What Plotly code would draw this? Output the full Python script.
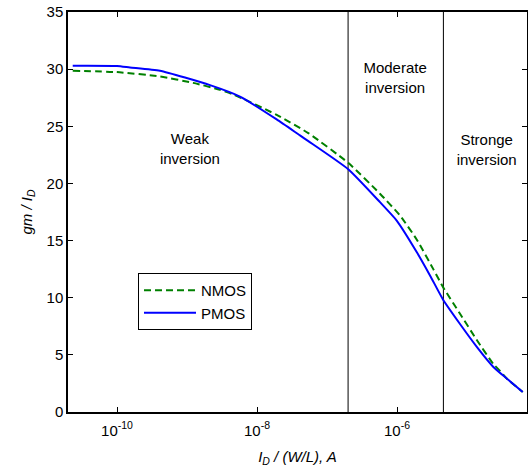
import plotly.graph_objects as go

# ---- data ----
nmos_x = [2.33e-11, 1.0e-10, 4.1e-10, 1.22e-9, 2.96e-9, 4.54e-9, 1.91e-8, 5.41e-8,
          2.01e-7, 5.71e-7, 1.10e-6, 1.91e-6, 3.30e-6, 4.58e-6, 7.94e-6, 1.38e-5,
          2.38e-5, 2.96e-5, 3.69e-5, 6.25e-5]
nmos_y = [29.86, 29.74, 29.36, 28.8, 28.2, 27.8, 26.0, 24.4,
          21.8, 19.1, 17.2, 15.1, 12.5, 10.9, 8.6, 6.3,
          4.2, 3.6, 2.93, 1.75]

pmos_x = [2.33e-11, 1.0e-10, 1.53e-10, 4.1e-10, 2.13e-9, 5.71e-9, 1.91e-8, 4.11e-8,
          5.41e-8, 2.01e-7, 5.71e-7, 9.9e-7, 1.91e-6, 2.96e-6, 4.58e-6, 7.94e-6,
          1.38e-5, 2.38e-5, 3.69e-5, 6.25e-5]
pmos_y = [30.3, 30.28, 30.15, 29.86, 28.6, 27.6, 25.6, 24.2,
          23.7, 21.24, 18.36, 16.75, 14.0, 11.95, 9.8, 7.7,
          5.7, 3.94, 2.93, 1.75]

region_bounds = [2.0e-7, 4.6e-6]
region_labels = ["Weak<br>inversion", "Moderate<br>inversion", "Stronge<br>inversion"]
region_label_x = [1.1e-9, 9.4e-7, 1.91e-5]
region_label_y = [22.9, 29.1, 22.8]

x_tickvals = [1e-10, 1e-8, 1e-6]
x_ticktext = ["10<sup>-10</sup>", "10<sup>-8</sup>", "10<sup>-6</sup>"]
y_tickvals = [0, 5, 10, 15, 20, 25, 30, 35]

FONT = "Liberation Sans, Arial, Helvetica, sans-serif"
FS = 15

fig = go.Figure()

for xb in region_bounds:
    fig.add_trace(go.Scatter(x=[xb, xb], y=[0, 35], mode="lines",
                             line=dict(color="black", width=1),
                             showlegend=False, hoverinfo="skip"))

fig.add_trace(go.Scatter(x=nmos_x, y=nmos_y, mode="lines", name="NMOS",
                         line=dict(color="#008000", width=2, dash="7px,4px",
                                   shape="spline", smoothing=0.5)))
fig.add_trace(go.Scatter(x=pmos_x, y=pmos_y, mode="lines", name="PMOS",
                         line=dict(color="#0000ff", width=2,
                                   shape="spline", smoothing=0.5)))

fig.add_trace(go.Scatter(x=region_label_x, y=region_label_y, mode="text",
                         text=region_labels,
                         textfont=dict(family=FONT, size=FS, color="black"),
                         showlegend=False, hoverinfo="skip"))

fig.update_layout(
    width=528, height=468,
    margin=dict(l=68, r=1, t=12, b=56, autoexpand=False),
    paper_bgcolor="white", plot_bgcolor="white",
    font=dict(family=FONT, size=FS, color="black"),
    showlegend=True,
    legend=dict(x=0.1525, y=0.3475, xanchor="left", yanchor="top",
                bordercolor="black", borderwidth=1, bgcolor="white",
                font=dict(family=FONT, size=FS, color="black"),
                itemwidth=52, tracegroupgap=0),
)

fig.update_xaxes(type="log", range=[-10.7, -4.143], automargin=False,
                 tickvals=x_tickvals, ticktext=x_ticktext,
                 ticks="inside", ticklen=5, tickcolor="black",
                 ticklabelstandoff=4,
                 showline=True, linecolor="black", linewidth=1.5, mirror="ticks",
                 showgrid=False, zeroline=False,
                 tickfont=dict(family=FONT, size=FS, color="black"),
                 title=dict(text="<i>I</i><sub><i>D</i></sub><i> / (W/L), A</i>",
                            font=dict(family=FONT, size=FS, color="black"),
                            standoff=14))
fig.update_yaxes(range=[0, 35], tickvals=y_tickvals, automargin=False,
                 ticks="inside", ticklen=5, tickcolor="black",
                 showline=True, linecolor="black", linewidth=1.5, mirror="ticks",
                 showgrid=False, zeroline=False,
                 tickfont=dict(family=FONT, size=FS, color="black"),
                 title=dict(text="<i>gm / I</i><sub><i>D</i></sub>",
                            font=dict(family=FONT, size=FS, color="black"),
                            standoff=10))

fig.write_html("out.html", config={"displayModeBar": False},
               post_script="document.body.style.margin='0';document.body.style.overflow='hidden';")
